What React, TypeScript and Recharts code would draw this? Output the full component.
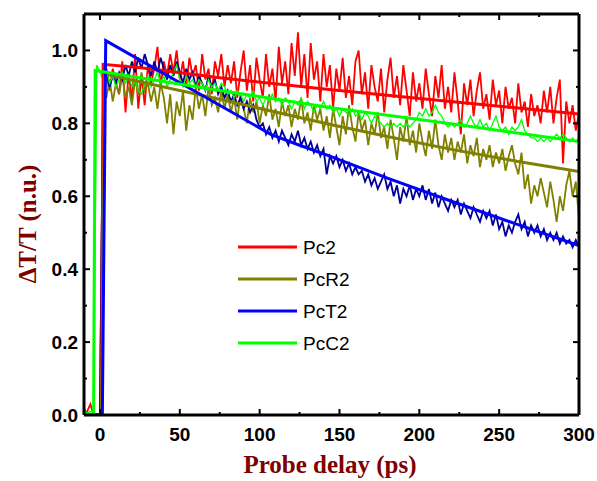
import React from 'react';
import { LineChart, Line, XAxis, YAxis } from 'recharts';

// probe delay grid (ps), 2 ps step from -10 to 300
const delays = Array.from({ length: 156 }, (_, i) => -10 + 2 * i);

const pc2Data = [
  0, 0.01, 0.03, 0, 0, 0,
  0.90, 0.93, 0.89, 0.95, 0.91, 0.88, 0.97, 0.83, 0.94, 0.86,
  0.99, 0.84, 0.93, 0.85, 0.96, 0.91, 0.95, 1.01, 0.90, 0.97,
  0.93, 0.99, 0.94, 1.00, 0.92, 0.97, 0.90, 0.98, 0.93, 0.96,
  0.89, 0.99, 0.92, 0.95, 0.88, 0.97, 0.93, 0.99, 0.90, 0.96,
  0.91, 0.97, 0.87, 0.94, 1.00, 0.89, 0.96, 0.86, 0.98, 0.92,
  0.87, 0.99, 0.90, 0.95, 0.86, 1.01, 0.91, 0.97, 0.88, 1.02,
  0.93, 1.05, 0.90, 0.99, 0.87, 1.02, 0.92, 0.97, 0.86, 0.99,
  0.90, 0.96, 0.84, 0.95, 0.89, 0.98, 0.87, 0.93, 0.85, 0.97,
  1.00, 0.88, 0.94, 0.84, 0.96, 0.90, 0.86, 0.95, 0.83, 0.92,
  0.98, 0.87, 0.93, 0.85, 0.96, 0.89, 0.82, 0.94, 0.86, 0.91,
  0.84, 0.95, 0.88, 0.82, 0.93, 0.87, 0.96, 0.84, 0.90, 0.83,
  0.94, 0.86, 0.77, 0.91, 0.85, 0.92, 0.82, 0.89, 0.94, 0.84,
  0.88, 0.81, 0.92, 0.85, 0.89, 0.80, 0.90, 0.84, 0.87, 0.80,
  0.91, 0.83, 0.86, 0.79, 0.88, 0.82, 0.85, 0.80, 0.89, 0.83,
  0.90, 0.80, 0.87, 0.92, 0.69, 0.86, 0.80, 0.85, 0.78, 0.83,
];

const pcR2Data = [
  0.02, 0, 0, 0, 0, 0,
  0.90, 0.87, 0.92, 0.86, 0.91, 0.88, 0.93, 0.87, 0.90, 0.85,
  0.92, 0.88, 0.94, 0.89, 0.91, 0.86, 0.90, 0.84, 0.91, 0.87,
  0.80, 0.88, 0.77, 0.86, 0.82, 0.89, 0.78, 0.85, 0.81, 0.90,
  0.84, 0.88, 0.82, 0.90, 0.85, 0.87, 0.83, 0.89, 0.84, 0.88,
  0.83, 0.87, 0.81, 0.88, 0.84, 0.80, 0.87, 0.83, 0.86, 0.80,
  0.85, 0.82, 0.88, 0.81, 0.84, 0.79, 0.86, 0.82, 0.85, 0.79,
  0.84, 0.81, 0.87, 0.80, 0.83, 0.78, 0.85, 0.81, 0.84, 0.78,
  0.82, 0.76, 0.84, 0.79, 0.74, 0.82, 0.77, 0.85, 0.79, 0.75,
  0.83, 0.78, 0.81, 0.74, 0.80, 0.77, 0.83, 0.76, 0.79, 0.73,
  0.81, 0.76, 0.70, 0.79, 0.75, 0.82, 0.74, 0.78, 0.72, 0.80,
  0.75, 0.71, 0.78, 0.73, 0.81, 0.74, 0.70, 0.77, 0.72, 0.76,
  0.70, 0.75, 0.72, 0.77, 0.69, 0.74, 0.71, 0.76, 0.68, 0.73,
  0.70, 0.74, 0.68, 0.72, 0.69, 0.73, 0.67, 0.71, 0.74, 0.69,
  0.66, 0.72, 0.62, 0.66, 0.58, 0.63, 0.60, 0.65, 0.61, 0.57,
  0.64, 0.59, 0.53, 0.60, 0.56, 0.63, 0.67, 0.60, 0.64, 0.54,
];

const pcT2Data = [
  0, 0, 0, 0, 0, 0,
  0.92, 0.95, 0.90, 0.93, 0.91, 0.94, 0.92, 0.96, 0.93, 0.97,
  0.94, 0.98, 0.95, 0.99, 0.96, 0.93, 0.97, 0.94, 0.98, 0.95,
  0.92, 0.96, 0.93, 0.97, 0.94, 0.91, 0.95, 0.92, 0.94, 0.90,
  0.93, 0.91, 0.89, 0.93, 0.90, 0.92, 0.88, 0.90, 0.87, 0.89,
  0.86, 0.88, 0.85, 0.87, 0.84, 0.86, 0.83, 0.85, 0.81, 0.79,
  0.80, 0.77, 0.79, 0.76, 0.78, 0.75, 0.78, 0.76, 0.74, 0.77,
  0.75, 0.78, 0.74, 0.76, 0.73, 0.75, 0.72, 0.74, 0.71, 0.73,
  0.66, 0.71, 0.69, 0.71, 0.68, 0.70, 0.67, 0.69, 0.66, 0.68,
  0.66, 0.67, 0.64, 0.66, 0.63, 0.65, 0.62, 0.64, 0.66, 0.62,
  0.64, 0.60, 0.63, 0.58, 0.62, 0.60, 0.63, 0.59, 0.62, 0.60,
  0.63, 0.59, 0.62, 0.58, 0.61, 0.57, 0.60, 0.58, 0.56, 0.59,
  0.57, 0.59, 0.55, 0.58, 0.56, 0.54, 0.57, 0.55, 0.53, 0.56,
  0.54, 0.56, 0.52, 0.55, 0.51, 0.53, 0.49, 0.52, 0.50, 0.53,
  0.55, 0.51, 0.53, 0.49, 0.52, 0.50, 0.52, 0.49, 0.51, 0.48,
  0.50, 0.48, 0.50, 0.47, 0.49, 0.47, 0.48, 0.46, 0.48, 0.46,
];

const pcC2Data = [
  0.01, 0.005, 0.01, 0.005, 0.96, 0.94,
  0.92, 0.95, 0.91, 0.93, 0.90, 0.92, 0.94, 0.91, 0.93, 0.90,
  0.92, 0.89, 0.88, 0.91, 0.93, 0.90, 0.92, 0.94, 0.91, 0.93,
  0.90, 0.92, 0.94, 0.96, 0.92, 0.90, 0.93, 0.91, 0.92, 0.90,
  0.92, 0.91, 0.89, 0.92, 0.90, 0.91, 0.89, 0.91, 0.90, 0.88,
  0.89, 0.87, 0.89, 0.88, 0.86, 0.88, 0.87, 0.89, 0.86, 0.87,
  0.85, 0.87, 0.86, 0.88, 0.86, 0.87, 0.85, 0.87, 0.86, 0.84,
  0.86, 0.85, 0.87, 0.84, 0.86, 0.85, 0.83, 0.85, 0.84, 0.86,
  0.84, 0.85, 0.83, 0.84, 0.82, 0.84, 0.83, 0.82, 0.84, 0.82,
  0.83, 0.81, 0.83, 0.82, 0.80, 0.82, 0.81, 0.80, 0.79, 0.80,
  0.79, 0.80, 0.79, 0.80, 0.79, 0.80, 0.79, 0.80, 0.81, 0.83,
  0.82, 0.84, 0.82, 0.83, 0.85, 0.83, 0.82, 0.80, 0.79, 0.80,
  0.79, 0.80, 0.81, 0.79, 0.80, 0.82, 0.80, 0.79, 0.81, 0.79,
  0.80, 0.78, 0.80, 0.82, 0.79, 0.78, 0.79, 0.77, 0.79, 0.78,
  0.79, 0.81, 0.78, 0.77, 0.76, 0.76, 0.75, 0.76, 0.75, 0.76,
  0.75, 0.76, 0.77, 0.76, 0.77, 0.76, 0.75, 0.76, 0.75, 0.76,
];

// fitted decays: [delay, value]
const pc2Fit = [[-10, 0], [1, 0], [2, 0.962], [27, 0.952], [75, 0.925], [145, 0.892], [221, 0.859], [300, 0.826]];
const pcR2Fit = [[-10, 0], [1, 0], [3, 0.935], [75, 0.866], [145, 0.796], [183, 0.761], [221, 0.728], [260, 0.697], [300, 0.668]];
const pcT2Fit = [[-10, 0], [1.5, 0], [3.6, 1.027], [107, 0.77], [125, 0.74], [144, 0.71], [180, 0.65], [221, 0.585], [260, 0.525], [300, 0.465]];
const pcC2Fit = [[-10, 0], [-4, 0], [-3, 0.945], [75, 0.89], [145, 0.843], [221, 0.798], [300, 0.75]];

const xTicks = [0, 25, 50, 75, 100, 125, 150, 175, 200, 225, 250, 275, 300];
const yTicks = [0, 0.1, 0.2, 0.3, 0.4, 0.5, 0.6, 0.7, 0.8, 0.9, 1.0];

const toRows = (vals: number[]) => vals.map((v, i) => ({ t: delays[i], v }));
const fitRows = (pts: number[][]) => pts.map(([t, v]) => ({ t, v }));

const tickFont = { fontFamily: '"Liberation Sans", Arial, sans-serif', fontWeight: 700, fontSize: 19, fill: '#000' };
const titleColor = '#800000';

const isMajorX = (v: number) => v % 50 === 0;
const isMajorY = (v: number) => Math.round(v * 10) % 2 === 0;

const BottomTick = ({ x, y, payload }: any) => {
  const major = isMajorX(payload.value);
  return (
    <g>
      <line x1={x} x2={x} y1={y} y2={y - (major ? 6 : 3)} stroke="#000" strokeWidth={2} />
      {major && (
        <text x={x} y={y + 26} textAnchor="middle" {...tickFont}>{payload.value}</text>
      )}
    </g>
  );
};

const TopTick = ({ x, y, payload }: any) => (
  <line x1={x} x2={x} y1={y} y2={y + (isMajorX(payload.value) ? 6 : 3)} stroke="#000" strokeWidth={2} />
);

const LeftTick = ({ x, y, payload }: any) => {
  const major = isMajorY(payload.value);
  return (
    <g>
      <line x1={x} x2={x + (major ? 6 : 3)} y1={y} y2={y} stroke="#000" strokeWidth={2} />
      {major && (
        <text x={x - 6} y={y} dy="0.36em" textAnchor="end" {...tickFont}>{payload.value.toFixed(1)}</text>
      )}
    </g>
  );
};

const RightTick = ({ x, y, payload }: any) => (
  <line x1={x} x2={x - (isMajorY(payload.value) ? 6 : 3)} y1={y} y2={y} stroke="#000" strokeWidth={2} />
);

const legendItems = [
  { name: 'Pc2', color: '#FF0000' },
  { name: 'PcR2', color: '#808000' },
  { name: 'PcT2', color: '#0000FF' },
  { name: 'PcC2', color: '#00FF00' },
];

const axisLine = { stroke: '#000', strokeWidth: 3 };

const App: React.FC = () => {
  return (
    <div style={{ position: 'absolute', left: 0, top: 0, width: 597, height: 481, background: '#fff' }}>
      <LineChart width={597} height={481} margin={{ top: 13, right: 17, bottom: 36, left: 44 }}>
        <XAxis xAxisId="b" dataKey="t" type="number" domain={[-10, 300]} ticks={xTicks} allowDataOverflow
          height={30} tickSize={0} tickMargin={0} tickLine={false} axisLine={axisLine} tick={<BottomTick />} interval={0} />
        <XAxis xAxisId="top" orientation="top" dataKey="t" type="number" domain={[-10, 300]} ticks={xTicks} allowDataOverflow
          height={1} tickSize={0} tickMargin={0} tickLine={false} axisLine={axisLine} tick={<TopTick />} interval={0} />
        <YAxis yAxisId="l" type="number" domain={[0, 1.1]} ticks={yTicks} allowDataOverflow
          width={40} tickSize={0} tickMargin={0} tickLine={false} axisLine={axisLine} tick={<LeftTick />} interval={0} />
        <YAxis yAxisId="r" orientation="right" type="number" domain={[0, 1.1]} ticks={yTicks} allowDataOverflow
          width={1} tickSize={0} tickMargin={0} tickLine={false} axisLine={axisLine} tick={<RightTick />} interval={0} />

        <Line xAxisId="b" yAxisId="l" data={toRows(pc2Data)} dataKey="v" stroke="#FF0000" strokeWidth={1.8} dot={false} isAnimationActive={false} />
        <Line xAxisId="b" yAxisId="l" data={toRows(pcR2Data)} dataKey="v" stroke="#808000" strokeWidth={1.8} dot={false} isAnimationActive={false} />
        <Line xAxisId="b" yAxisId="l" data={toRows(pcT2Data)} dataKey="v" stroke="#000099" strokeWidth={1.8} dot={false} isAnimationActive={false} />
        <Line xAxisId="b" yAxisId="l" data={toRows(pcC2Data)} dataKey="v" stroke="#00FF00" strokeWidth={1.3} dot={false} isAnimationActive={false} />

        <Line xAxisId="b" yAxisId="l" data={fitRows(pc2Fit)} dataKey="v" name="Pc2" stroke="#FF0000" strokeWidth={3} dot={false} isAnimationActive={false} />
        <Line xAxisId="b" yAxisId="l" data={fitRows(pcR2Fit)} dataKey="v" name="PcR2" stroke="#808000" strokeWidth={3} dot={false} isAnimationActive={false} />
        <Line xAxisId="b" yAxisId="l" data={fitRows(pcT2Fit)} dataKey="v" name="PcT2" stroke="#0000FF" strokeWidth={3} dot={false} isAnimationActive={false} />
        <Line xAxisId="b" yAxisId="l" data={fitRows(pcC2Fit)} dataKey="v" name="PcC2" stroke="#00FF00" strokeWidth={3} dot={false} isAnimationActive={false} />
      </LineChart>
      <svg width={160} height={140} style={{ position: 'absolute', left: 238, top: 234 }}>
        {legendItems.map((it, i) => (
          <g key={it.name}>
            <line x1={0} x2={59} y1={13 + i * 32} y2={13 + i * 32} stroke={it.color} strokeWidth={3} />
            <text x={65} y={13 + i * 32} dy="0.36em" fontFamily='"Liberation Sans", Arial, sans-serif' fontSize={19} fill="#000">
              {it.name}
            </text>
          </g>
        ))}
      </svg>
      <div style={{
        position: 'absolute', left: 330, top: 477, transform: 'translate(-50%, -100%)', whiteSpace: 'nowrap',
        fontFamily: '"Liberation Serif", "Times New Roman", serif', fontWeight: 700, fontSize: 25, color: titleColor, lineHeight: 1,
      }}>
        Probe delay (ps)
      </div>
      <div style={{
        position: 'absolute', left: 27, top: 224, transform: 'translate(-50%, -50%) rotate(-90deg)', whiteSpace: 'nowrap',
        fontFamily: '"Liberation Serif", "Times New Roman", serif', fontWeight: 700, fontSize: 25, color: titleColor, lineHeight: 1,
      }}>
        ΔT/T (n.u.)
      </div>
    </div>
  );
};

export default App;
